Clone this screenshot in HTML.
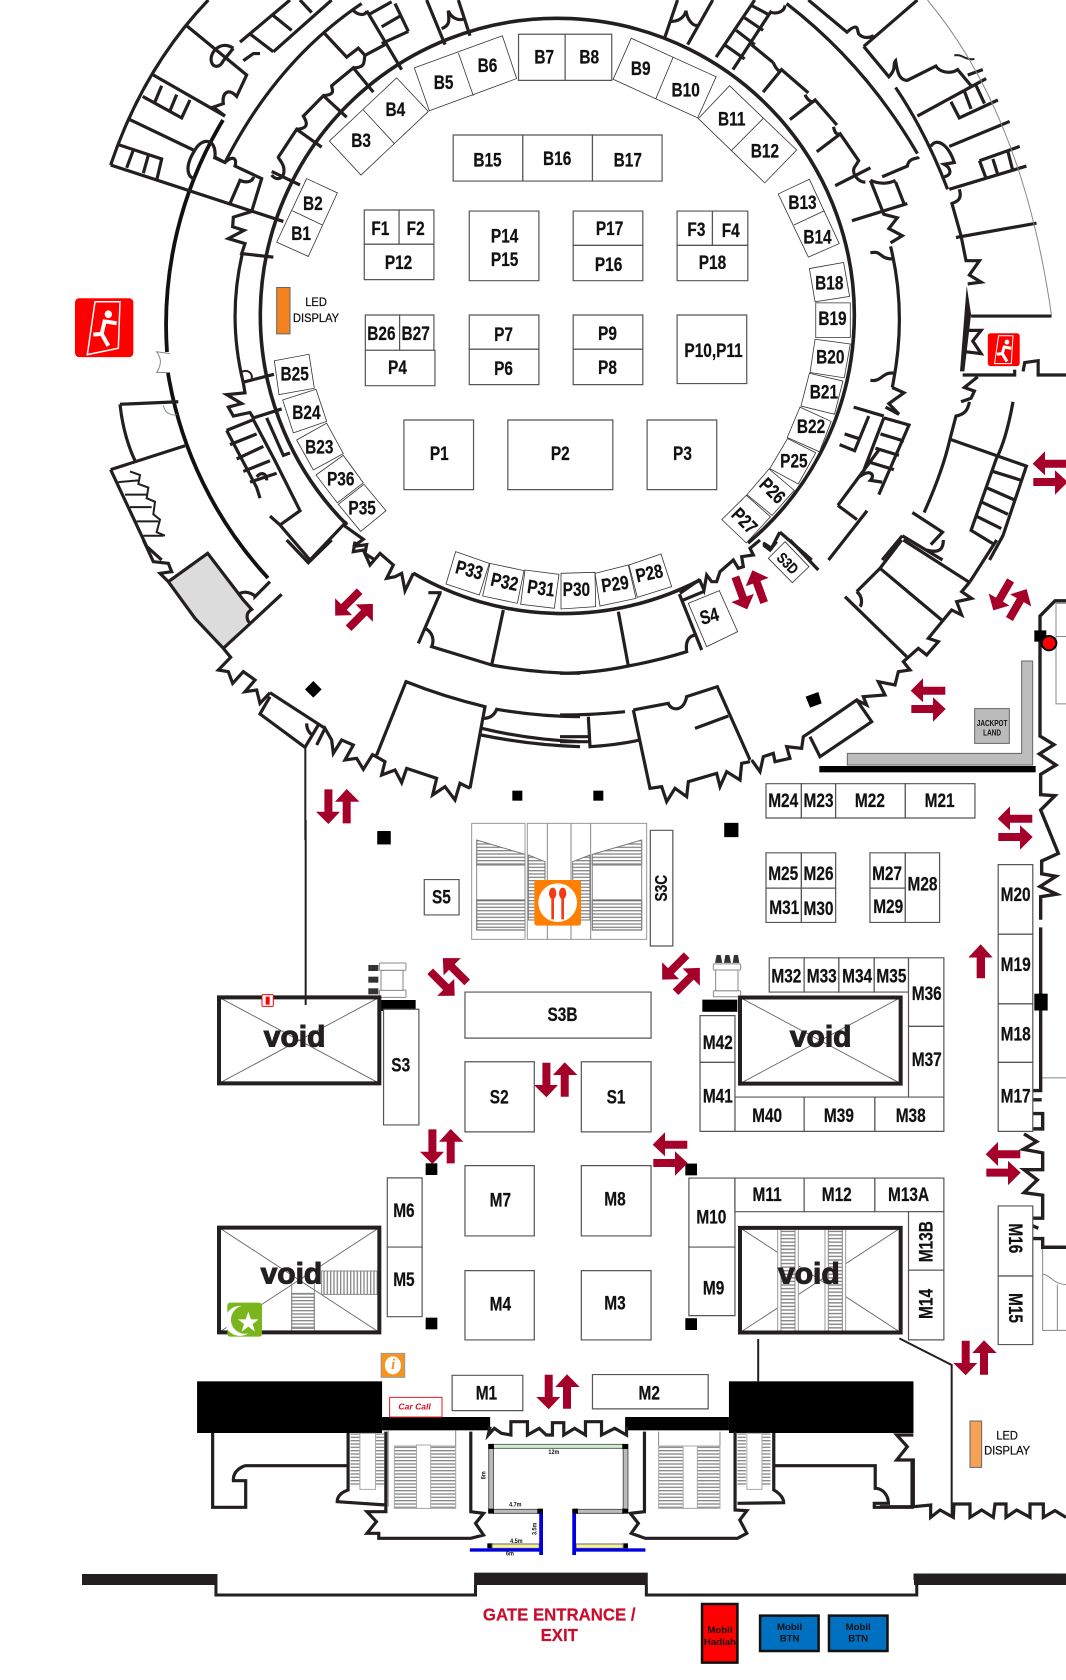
<!DOCTYPE html>
<html><head><meta charset="utf-8"><title>Floor map</title>
<style>
html,body{margin:0;padding:0;background:#fff;width:1066px;height:1680px;overflow:hidden}
svg{display:block}
g path,g polyline,g polygon,g rect,g line,g circle,g ellipse{vector-effect:non-scaling-stroke}
.w{fill:none;stroke:#231f20;stroke-width:3.2;stroke-linejoin:miter}
.t{fill:none;stroke:#231f20;stroke-width:2}
.n{fill:none;stroke:#888;stroke-width:1}
.bx{fill:#fff;stroke:#555;stroke-width:1.2}
.rb{fill:#fff;stroke:#333;stroke-width:.8}
.x{stroke:#666;stroke-width:.9;fill:none}
.v{fill:#fff;stroke:#231f20;stroke-width:4}
.k{fill:#000;stroke:none}
text{font-family:"Liberation Sans",sans-serif;font-weight:bold;font-size:18px;fill:#111;stroke:#111;stroke-width:.2;text-anchor:middle;dominant-baseline:central;transform-box:fill-box;transform-origin:center;transform:scaleX(.8)}
.void{font-size:28px;transform:none;fill:#231f20;stroke:#231f20;stroke-width:1}
.sm{font-size:11.5px;font-weight:normal;stroke:#111;stroke-width:.25;transform:scaleX(.9)}
.dim{font-size:6px;stroke:none;transform:scaleX(.85)}
</style></head><body>
<svg xmlns="http://www.w3.org/2000/svg" width="1066" height="1680" viewBox="0 0 1066 1680">
<defs>
<pattern id="h" width="10" height="10" patternUnits="userSpaceOnUse"><rect width="10" height="4" fill="#888"/></pattern>
<pattern id="vh" width="10" height="10" patternUnits="userSpaceOnUse"><rect width="4" height="10" fill="#888"/></pattern>
<g id="da" fill="#a40029"><polygon points="-13.3,-17.3 -5.3,-17.3 -5.3,5 2.3,5 -9.3,17.3 -21.7,5 -13.3,5"/><polygon points="9,-17.7 21.7,-5 13,-5 13,16.7 5,16.7 5,-5 -2.7,-5"/></g>
</defs>
<rect width="1066" height="1680" fill="#fff"/>

<!-- main rings in real coordinates -->
<g>
<path class="w" style="stroke-width:3.6" d="M347,525 A297 297 0 1 1 748,543"/>
<path class="w" style="stroke-width:3.6" d="M413,573 A297 297 0 0 0 700,580"/>
<path class="w" style="stroke-width:3.8;stroke:#111" d="M223,120 A397 397 0 0 0 167,352"/>
<path class="w" style="stroke-width:3.8;stroke:#111" d="M168,373 A397 397 0 0 0 268,578"/>
<rect x="82" y="1574" width="135" height="11" fill="#231f20"/>
<rect x="914" y="1574" width="152" height="11" fill="#231f20"/>
</g>

<!-- Z1 top-left -->
<g transform="translate(80,0) scale(.33333,.35714)">
<path class="w" d="M92,462 Q190,190 385,0"/>
<path class="w" d="M92,462 L610,620"/>
<path class="w" d="M115,405 L245,445 L230,505 M160,420 L140,470 M205,435 L190,485"/>
<path class="w" d="M150,335 L340,420"/>
<path class="w" d="M345,420 C310,470 325,500 345,500 M345,420 C365,385 410,385 405,440 L435,455"/>
<path class="w" d="M188,270 L305,330 L330,280 M220,210 L435,325 M245,240 L225,285 M290,265 L270,310"/>
<path class="w" d="M320,72 L500,210 L470,270 C445,245 425,260 430,290 L400,300 L435,325"/>
<path class="w" d="M460,135 C420,110 385,150 395,175 C400,190 420,190 430,170 L460,135 M490,170 L520,150 L540,150"/>
<path class="w" d="M480,118 L630,0 M510,95 L580,145 M575,40 L635,85 M660,0 L695,35 M580,145 L755,0"/>
<path class="w" d="M845,10 Q590,170 435,455"/>
<path class="w" d="M400,440 L435,455 C465,430 470,450 465,465 L545,500 L515,592 L460,608 L458,635 L492,645 L445,668 L495,682 L485,710 L580,720 M487,710 Q442,890 490,1072"/>
<path class="w" d="M450,570 L480,505 C505,515 520,505 520,495"/>
<path class="w" d="M575,490 C590,510 620,500 610,465 C605,450 595,445 595,440 L650,362 L725,412 M575,480 L660,518"/>
<path class="w" d="M650,362 C690,360 680,340 670,325 L730,268 L800,328 M730,268 C770,265 755,250 755,240 L820,190 L880,258 M820,190 C860,190 850,170 855,155 L915,125"/>
<path class="w" d="M730,90 L800,160 L835,135 L855,155 M860,30 L965,195 M868,40 L935,5 M905,75 L960,45 M985,88 L905,122 M945,10 L985,88 M815,25 C840,50 860,40 860,30"/>
<path class="w" d="M1040,0 L1095,125 M1135,0 L1170,100 M1085,80 C1115,70 1105,50 1105,30 C1115,55 1145,60 1155,50"/>
<path class="t" d="M480,1045 C500,1030 520,1045 515,1060"/>
<path class="w" d="M490,1070 L582,1048 M490,1072 L495,1100 L440,1105 L485,1130 L445,1140 L460,1165 L510,1155 L520,1170 L605,1145"/>
<path class="w" d="M440,1205 L520,1175 L585,1290 L660,1430 L600,1470 L570,1445 M600,1470 L690,1568 M440,1205 L530,1365 L540,1395 M450,1245 L530,1215 M470,1285 L550,1250 M490,1320 L570,1290 M510,1350 L590,1325 M530,1335 C545,1320 560,1325 560,1345 M560,1170 L610,1275 L630,1268"/>
<path class="w" d="M800,1460 L690,1568 M790,1470 L850,1510 L820,1530 L860,1525 L855,1550 L885,1568"/>
<path class="n" d="M270,990 L230,985 C245,1005 245,1020 230,1043 L270,1043 M250,1135 C255,1160 280,1165 290,1160"/>
<path class="w" d="M120,1132 L295,1125 M120,1132 Q130,1220 165,1290 M92,1315 L315,1248 M92,1315 L200,1530 L245,1568"/>
<path class="t" d="M150,1320 L180,1330 L175,1355 L205,1365 L200,1395 L225,1405 L220,1440 L240,1455 L230,1490 L255,1500 M115,1350 L175,1345 M135,1385 L200,1385 M150,1420 L215,1420 M170,1460 L235,1460 M190,1500 L250,1500"/>
<rect x="-15" y="835" width="175" height="165" rx="12" fill="#f00"/>
<path d="M45,845 L120,845 L115,975 L22,993 Z" fill="none" stroke="#fff" stroke-width="1.5"/>
<circle cx="85" cy="880" r="11" fill="#fff"/>
<path d="M75,895 L65,935 L40,937 M65,935 L85,968 M75,900 L110,905" fill="none" stroke="#fff" stroke-width="4"/>
<rect x="590" y="805" width="40" height="130" fill="#f58220" stroke="#666"/>
<polygon class="rb" points="1003,190 1267,100 1310,220 1048,310"/><line class="rb" x1="1135" y1="148" x2="1180" y2="268"/>
<polygon class="rb" points="950,218 1045,312 843,490 748,395"/><line class="rb" x1="850" y1="308" x2="943" y2="402"/>
<polygon class="rb" points="680,500 772,540 685,718 590,678"/><line class="rb" x1="637" y1="590" x2="727" y2="630"/>
<polygon class="rb" points="583,1010 687,992 703,1087 597,1105"/>
<polygon class="rb" points="608,1120 708,1090 740,1180 640,1212"/>
<polygon class="rb" points="650,1232 740,1185 790,1270 700,1316"/>
<polygon class="rb" points="708,1330 790,1275 850,1352 772,1408"/>
<polygon class="rb" points="775,1412 852,1356 918,1430 842,1488"/>
</g>

<!-- Z2 top-right -->
<g transform="translate(540,0) scale(.33546,.35714)">
<path class="w" d="M410,0 L372,105 M515,0 L440,125 M390,60 C430,60 435,30 435,30 C440,60 460,75 470,70"/>
<path class="w" d="M525,160 L640,0 M575,195 L690,30 M550,125 L610,165 M585,85 L640,125 M610,50 L665,85 M630,15 L680,40 M690,35 C710,40 730,30 730,15"/>
<path class="w" d="M735,10 Q970,180 1125,430 M800,0 L915,90 C950,60 945,85 950,95 C965,110 985,105 995,100 M965,130 L1125,0"/>
<path class="w" d="M965,130 L1040,215 C1065,190 1050,180 1060,170 C1065,200 1070,225 1095,225 L1180,185 C1190,200 1220,210 1245,195 L1285,240"/>
<path class="w" d="M1060,245 Q1150,370 1215,530 M1125,325 L1330,220 M1225,285 L1250,330 L1365,280 M1265,255 L1285,305 M1300,240 L1325,290 M1275,210 L1320,195"/>
<path class="t" d="M1235,155 C1260,150 1265,170 1295,165"/>
<path class="w" d="M1165,410 C1180,385 1215,400 1235,455 L1205,460 C1225,470 1230,490 1205,495 M1220,410 L1400,340 M1310,450 L1430,410 M1330,500 L1310,450 M1220,530 L1450,465 M1350,445 L1365,490 M1395,425 L1410,480"/>
<path class="w" d="M1250,530 C1260,560 1240,565 1228,570 L1255,660 L1270,730 L1310,730 L1280,770 L1315,790 L1275,795 M1240,665 L1480,625"/>
<polygon points="1272,800 1285,880 1265,1040 1252,1040" fill="#231f20"/>
<path class="w" d="M1285,885 L1525,885 M1270,925 L1315,925 L1290,955 L1315,990 L1270,985 M1260,1050 L1415,1050 L1415,1035 M1440,1040 L1445,1015 L1485,1010 L1485,1050 L1568,1050 M1305,1055 L1265,1085 L1295,1095 L1285,1115 L1255,1125"/>
<path class="w" d="M1280,1125 C1275,1150 1265,1160 1240,1165 L1222,1230 L1450,1305 L1380,1500 L1340,1568 M1222,1230 Q1200,1320 1145,1435 M1410,1125 Q1390,1230 1360,1285 L1285,1485 L1355,1525 M1350,1320 L1435,1345 M1330,1365 L1415,1400 M1315,1405 L1395,1440 M1300,1445 L1375,1480"/>
<path class="w" d="M1110,1435 L1200,1490 L1165,1525 M1080,1500 L1020,1568 M1080,1500 L1200,1568"/>
<path class="w" d="M1045,690 Q1095,880 1050,1085 M985,708 C1020,700 1010,725 1050,725 M985,1065 C1020,1070 1020,1040 1055,1045 M1050,1085 L1085,1100 L1040,1130 L1070,1160 L1030,1140"/>
<path class="w" d="M1045,680 L1080,660 L1040,640 L1065,610 L1025,600 L985,505 M1060,510 L1085,570 M985,505 C1020,520 1050,510 1060,505 M930,618 L1095,570 M880,520 L985,470 M1020,495 L1095,465 C1100,440 1125,445 1130,440"/>
<path class="w" d="M745,335 L820,280 L885,350 M790,265 C800,285 815,290 820,280 M665,258 L720,195 L800,260 M695,175 C705,195 715,205 720,195 M630,125 L695,175 M825,425 L895,375 L950,450 L940,465 C925,480 945,510 970,510 M875,355 C880,380 890,375 895,375"/>
<path class="w" d="M935,1140 L1025,1165 M980,1165 L938,1262 L893,1245 M908,1215 L950,1228 M1025,1170 L1100,1190 L1010,1385 M1015,1215 L1085,1235 M1000,1255 L1070,1275 M985,1295 L1055,1315 M1025,1170 L960,1330 C985,1315 1000,1330 985,1345 L1020,1350 M888,1415 L945,1455 M860,1568 L975,1430 M888,1415 L1010,1260"/>
<path class="w" d="M715,1490 L810,1568 M665,1520 L690,1535 L715,1490"/>
<path class="n" d="M1155,0 Q1440,320 1525,885"/>
<rect x="1335" y="933" width="95" height="92" rx="8" fill="#f00"/>
<path d="M1367,940 L1410,940 L1405,1018 L1355,1018 Z" fill="none" stroke="#fff" stroke-width="1"/>
<circle cx="1392" cy="958" r="7" fill="#fff"/>
<path d="M1385,968 L1378,990 L1362,992 M1378,990 L1392,1012 M1385,972 L1405,975" fill="none" stroke="#fff" stroke-width="3"/>
<polygon class="rb" points="272,107 525,215 470,330 218,222"/><line class="rb" x1="397" y1="160" x2="345" y2="277"/>
<polygon class="rb" points="565,240 765,420 670,512 472,332"/><line class="rb" x1="665" y1="332" x2="570" y2="422"/>
<polygon class="rb" points="710,543 803,502 892,682 800,720"/><line class="rb" x1="757" y1="630" x2="848" y2="590"/>
<polygon class="rb" points="803,752 905,735 923,830 820,845"/>
<polygon class="rb" points="822,848 925,848 925,945 822,945"/>
<polygon class="rb" points="820,950 925,963 907,1058 805,1043"/>
<polygon class="rb" points="803,1045 903,1067 878,1160 778,1137"/>
<polygon class="rb" points="775,1140 868,1180 833,1265 737,1225"/>
<polygon class="rb" points="738,1228 822,1268 770,1355 685,1312"/>
<polygon class="rb" points="683,1313 758,1373 692,1443 617,1385"/>
<polygon class="rb" points="615,1387 687,1447 615,1520 542,1455"/>
</g>

<!-- Z3 bottom-left ring -->
<g transform="translate(80,540) scale(.33333)">
<polygon points="270,122 383,42 510,210 500,250 430,322 340,235" fill="#dcdcdc"/>
<path class="w" d="M190,0 L220,65 L265,70 L275,95 L240,100 L265,125 L345,235 L430,325 L452,352 L415,390 L445,395 L458,430 L490,395 L525,420 L495,455 L530,450 L540,490 L570,458"/>
<path class="w" d="M265,125 L383,40 L490,180 L515,208 C495,220 500,240 510,250 M480,160 C500,150 525,165 525,170 L570,125 M430,325 L605,163"/>
<path class="w" d="M620,0 L685,68 L755,0"/>
<polygon class="k" points="700,423 725,448 700,473 675,448"/>
<path class="w" d="M570,458 L735,565 M570,470 L540,522 L675,622 L715,555 M680,550 C680,575 695,585 700,585"/>
<path class="t" d="M676,625 L676,900"/>
<path class="w" d="M710,615 L735,565 L755,600 L760,640 L785,600 L820,615 L795,660 L830,655 L850,688 L880,640"/>
<path class="w" d="M890,645 L978,425 Q1090,470 1215,500 L1170,745 M880,645 L915,665 L905,705 L945,690 L965,728 L980,685 L1070,715 L1058,765 L1095,740 L1125,780 L1140,730 L1170,745"/>
<path class="w" d="M1210,535 C1235,535 1245,520 1250,508 Q1380,530 1500,530 M1205,565 Q1350,600 1500,605 M1203,585 Q1350,615 1500,620"/>
<path class="w" d="M1045,158 L1085,158 M1080,160 L1015,310 M1035,265 C1065,280 1060,310 1055,320 L1235,375 Q1370,400 1500,400 M1270,210 L1235,375"/>
<path class="w" d="M1000,100 L975,152 L965,100 L945,110 L920,115 L940,75 L900,40 L870,75 L850,30 L820,35 L825,5"/>
<rect class="k" x="1297" y="752" width="30" height="30"/>
<rect class="k" x="892" y="873" width="40" height="40"/>
<polygon class="rb" points="1127,35 1228,70 1198,165 1098,132"/>
<polygon class="rb" points="1230,70 1332,92 1312,190 1208,168"/>
<polygon class="rb" points="1335,90 1437,103 1423,205 1322,193"/>
</g>

<!-- Z4 bottom-right ring -->
<g transform="translate(560,540) scale(.33333)">
<path class="w" d="M0,400 Q100,400 205,378 Q300,360 380,335 C375,300 390,285 410,285 M358,162 L425,330 M175,215 L205,378 M420,118 L360,160 M370,180 L430,155"/>
<path class="w" d="M418,118 L432,150 L440,105 L455,125 L470,125 L480,95 L520,60 L535,85 L550,80 L545,50 L580,45 L570,25 L600,0"/>
<path class="w" d="M0,525 Q100,525 195,515 M0,590 L90,590 M0,605 L90,605 M85,530 L90,620 Q170,615 240,600"/>
<path class="w" d="M220,510 L325,490 C330,510 370,520 380,470 L472,440 L570,660 M220,510 L270,745 L305,740 L320,785 L345,745 L380,770 L385,725 L470,700 L480,740 L500,695 L540,720 L545,670 L570,665 M405,565 L505,528"/>
<path class="w" d="M575,660 L600,695 L610,650 L640,640 L645,665 L690,655 L680,620 L725,625 L730,590 L745,580 L760,570 L890,480 L935,545 L780,650 L750,590"/>
<path class="w" d="M890,480 L920,495 L910,470 L975,465 L955,425 L1005,435 L1015,395 L1050,390 L1030,365 L1075,325 L1100,345 L1135,305 L1105,295 L1150,240 L1175,210 L1205,225 L1190,185 L1235,175 L1205,155 L1230,125"/>
<path class="w" d="M1040,350 L855,170 M890,155 C910,170 905,195 900,200 M890,155 L960,85 L1025,0 M960,85 L1145,240 M1230,125 L1310,0 M1030,0 L1225,125 M1100,30 C1135,40 1150,30 1150,0"/>
<path class="w" d="M690,0 L775,90 M610,15 L630,30 L650,5"/>
<polygon class="k" points="775,456 785,490 750,503 737,470"/>
<rect class="k" x="100" y="752" width="30" height="30"/>
<rect class="k" x="493" y="850" width="42" height="40"/>
<path d="M1385,363 H1418 V675 H862 V640 H1385 Z" fill="#bdbdbd" stroke="#666"/>
<rect class="k" x="778" y="678" width="649" height="19"/>
<rect x="1244" y="506" width="104" height="104" fill="#bbb" stroke="#666"/>
<polygon class="rb" points="675,5 747,80 697,128 625,55"/>
<polygon class="rb" points="385,190 478,152 533,275 440,320"/>
<polygon class="rb" points="3,100 105,97 107,200 3,207"/>
<polygon class="rb" points="105,100 205,75 228,175 120,198"/>
<polygon class="rb" points="207,75 303,42 335,140 232,172"/>
</g>

<!-- Z9 right wall -->
<g transform="translate(950,560) scale(.33333,.5102)">
<path class="n" d="M348,85 L318,85 L318,282 L348,282 M318,150 L348,150 M272,1015 L348,1015 M278,1350 L278,1510 L348,1510 M322,1420 L322,1510 M278,1400 C300,1400 310,1420 348,1420"/>
<path class="w" style="stroke-width:3.4" d="M348,80 L315,80 L270,110 L270,345 L312,362 L268,380 L318,402 L272,420 L272,460 L315,462 L272,490 L325,575 L275,590 L275,615 L318,620 L270,640 L320,655 L272,660 L272,705 M272,720 L272,1040 L248,1040 M248,1058 L275,1058 M248,1085 L278,1085 L278,1115 L248,1115 M222,1125 L260,1140 L220,1155 L278,1162 L278,1195 L222,1195 L262,1215 L222,1240 L278,1245 L278,1290 L248,1290 M248,1305 L265,1310 M248,1330 L278,1330 L278,1347 L348,1347"/>
<rect class="k" x="253" y="850" width="40" height="33"/>
<rect class="k" x="253" y="138" width="36" height="22"/>
<ellipse cx="297" cy="163" rx="22" ry="14" fill="#f00" stroke="#000" stroke-width="2"/>
</g>

<!-- Z8 -->
<g transform="translate(880,1300) scale(.33333)">
<path class="t" d="M58,115 L215,195 L215,650"/>
<path class="w" d="M100,405 L50,405 L82,440 L50,480 L100,480 L100,620 L0,620 M100,620 L152,615 L152,652 L180,630 L220,652 L222,612 L270,612 L270,652 L305,630 L340,652 L345,612 L378,612 L378,652 L410,630 L450,652 L450,612 L490,612 L490,652 L525,632 L558,652"/>
<rect x="270" y="363" width="35" height="139" fill="#f5a257" stroke="#666"/>
<path d="M105,840 V825 H558" fill="none" stroke="#231f20" stroke-width="3"/>
</g>

<!-- Z6 centre-left -->
<g transform="translate(200,820) scale(.33333)">
<rect x="815" y="10" width="160" height="348" fill="none" stroke="#999" stroke-width="1"/>
<rect x="982" y="10" width="358" height="348" fill="none" stroke="#999" stroke-width="1"/>
<path class="n" d="M1042,10 V358 M1113,10 V358 M1172,10 V358"/>
<polygon points="830,60 975,103 975,135 830,135" fill="url(#h)" stroke="#777"/>
<rect x="830" y="240" width="145" height="90" fill="url(#h)" stroke="#555"/>
<path class="n" d="M830,60 V330 M975,103 V330"/>
<polygon points="1325,60 1177,103 1177,135 1325,135" fill="url(#h)" stroke="#777"/>
<rect x="1177" y="240" width="148" height="90" fill="url(#h)" stroke="#555"/>
<path class="n" d="M1325,60 V330 M1177,103 V330"/>
<polygon points="985,105 1035,125 1035,300 985,300" fill="url(#h)" stroke="#777"/>
<polygon points="1118,125 1170,105 1170,300 1118,300" fill="url(#h)" stroke="#777"/>
<rect x="1003" y="180" width="140" height="137" rx="8" fill="#ff8000"/>
<circle cx="1073" cy="248" r="58" fill="#fff"/>
<ellipse cx="1058" cy="220" rx="11" ry="17" fill="#f03c14"/>
<ellipse cx="1088" cy="220" rx="11" ry="17" fill="#f03c14"/>
<rect x="1054" y="230" width="8" height="68" fill="#f03c14"/>
<rect x="1084" y="230" width="8" height="68" fill="#f03c14"/>
<!-- lift left -->
<rect x="538" y="429" width="80" height="22" rx="3" fill="#fff" stroke="#888"/>
<rect x="538" y="510" width="80" height="22" rx="3" fill="#fff" stroke="#888"/>
<rect x="543" y="451" width="66" height="60" fill="#fff" stroke="#888"/>
<rect x="505" y="435" width="30" height="18" fill="#333"/>
<rect x="505" y="470" width="30" height="18" fill="#333"/>
<rect x="505" y="505" width="30" height="18" fill="#333"/>
<rect class="k" x="540" y="540" width="107" height="33"/>
<!-- void 1 -->
<path class="x" d="M57,532 L538,790 M57,790 L538,532"/>
<rect x="57" y="532" width="481" height="258" fill="none" stroke="#231f20" stroke-width="4"/>
<rect x="186" y="524" width="34" height="35" rx="3" fill="#fff" stroke="#f00" stroke-width="1"/>
<rect x="197" y="530" width="12" height="24" fill="#f00"/>
<path class="t" d="M317,0 L317,555"/>
<!-- void 2 -->
<path class="x" d="M57,1223 L538,1537 M57,1537 L538,1223"/>
<rect x="365" y="1353" width="167" height="70" fill="url(#vh)" stroke="#888"/>
<rect x="275" y="1420" width="68" height="105" fill="url(#h)" stroke="#888"/>
<path class="n" d="M275,1390 V1537 M343,1390 V1537"/>
<rect x="57" y="1223" width="481" height="314" fill="none" stroke="#231f20" stroke-width="4"/>
<rect x="82" y="1448" width="104" height="102" rx="8" fill="#7ab51d"/>
<path d="M125,1458 A45,45 0 1 0 145,1540 A38,38 0 1 1 125,1458 Z" fill="#fff"/>
<polygon points="145,1475 153,1498 176,1498 158,1512 165,1535 145,1520 125,1535 132,1512 114,1498 137,1498" fill="#fff"/>
<rect class="k" x="532" y="33" width="40" height="40"/>
<rect class="k" x="677" y="1030" width="35" height="35"/>
<rect class="k" x="677" y="1493" width="35" height="35"/>
</g>

<!-- Z7 centre-right -->
<g transform="translate(650,820) scale(.33333,.35714)">
<rect class="k" x="223" y="8" width="42" height="40"/>
<rect x="190" y="403" width="82" height="17" rx="3" fill="#fff" stroke="#888"/>
<rect x="190" y="478" width="82" height="17" rx="3" fill="#fff" stroke="#888"/>
<rect x="197" y="420" width="67" height="58" fill="#fff" stroke="#888"/>
<path d="M195,400 L200,378 H212 L217,400 Z M222,400 L226,378 H238 L243,400 Z M248,400 L252,378 H264 L268,400 Z" fill="#333"/>
<rect class="k" x="157" y="503" width="105" height="34"/>
<path class="x" d="M270,497 L752,738 M270,738 L752,497"/>
<rect x="270" y="497" width="482" height="241" fill="none" stroke="#231f20" stroke-width="4"/>
<path class="x" d="M270,1142 L752,1435 M270,1435 L752,1142"/>
<rect x="383" y="1142" width="62" height="293" fill="#fff" stroke="#999"/>
<rect x="393" y="1142" width="42" height="293" fill="url(#h)" stroke="#888"/>
<rect x="525" y="1142" width="62" height="293" fill="#fff" stroke="#999"/>
<rect x="535" y="1142" width="42" height="293" fill="url(#h)" stroke="#888"/>
<rect x="270" y="1142" width="482" height="293" fill="none" stroke="#231f20" stroke-width="4"/>
<rect class="k" x="106" y="962" width="35" height="33"/>
<rect class="k" x="106" y="1395" width="35" height="33"/>
<polygon fill="#a40029" points="992,348 1028,385 1005,385 1005,443 980,443 980,385 955,385"/>
</g>

<!-- Z5 bottom -->
<g transform="translate(190,1320) scale(.47192,.33333)">
<rect class="k" x="15" y="184" width="392" height="155"/>
<rect class="k" x="1142" y="184" width="391" height="155"/>
<rect class="k" x="407" y="291" width="229" height="40"/>
<rect class="k" x="922" y="291" width="220" height="40"/>
<path class="w" d="M636,320 L632,345 L645,325 L660,340 L680,345 L680,305 L715,305 L715,345 L740,325 L755,345 L768,345 L768,308 L792,308 L792,345 L815,325 L838,345 L838,305 L872,305 L872,345 L900,325 L925,345 L925,320"/>
<path class="t" d="M1204,57 L1204,184"/>
<path class="w" d="M48,339 L48,562 L118,562 L118,482 L92,482 C90,450 115,437 118,437 L335,437 M335,339 L335,510 C315,520 312,535 312,545 L415,555 M415,335 L415,575 L375,575 L395,605 L375,640 L400,640 L400,655 L595,655 L622,645 L605,610 L622,580 L595,575 L595,335"/>
<path class="w" d="M963,335 L963,575 L933,580 L950,610 L935,640 L965,655 L1160,655 L1180,640 L1165,600 L1180,572 L1155,570 L1155,335 M1237,339 L1237,510 C1250,520 1258,535 1258,548 L1160,550 M1237,437 L1452,437 L1452,505 C1470,505 1480,530 1480,550 L1450,550 L1450,562 L1530,562 L1530,420"/>
<rect x="340" y="340" width="20" height="160" fill="url(#h)"/>
<rect x="393" y="340" width="18" height="160" fill="url(#h)"/>
<rect x="360" y="340" width="33" height="168" fill="#fff" stroke="#aaa"/>
<rect x="1160" y="340" width="18" height="160" fill="url(#h)"/>
<rect x="1212" y="340" width="18" height="160" fill="url(#h)"/>
<rect x="1180" y="340" width="32" height="168" fill="#fff" stroke="#aaa"/>
<rect x="433" y="378" width="130" height="187" fill="url(#h)" stroke="#aaa"/>
<rect x="480" y="375" width="30" height="190" fill="#fff" stroke="#aaa"/>
<path class="n" d="M420,330 V560 M563,330 V378 M993,335 V378 M1123,335 V378"/>
<rect x="993" y="378" width="130" height="187" fill="url(#h)" stroke="#aaa"/>
<rect x="1045" y="378" width="30" height="187" fill="#fff" stroke="#aaa"/>
<rect x="640" y="373" width="278" height="12" fill="#cfeecf" stroke="#666"/>
<rect x="633" y="373" width="10" height="205" fill="#bbb" stroke="#555"/>
<rect x="918" y="373" width="10" height="205" fill="#bbb" stroke="#555"/>
<rect x="643" y="568" width="97" height="12" fill="#bbb" stroke="#555"/>
<rect x="815" y="568" width="103" height="12" fill="#bbb" stroke="#555"/>
<g fill="#000"><rect x="632" y="372" width="12" height="15"/><rect x="916" y="372" width="12" height="15"/><rect x="632" y="566" width="12" height="15"/><rect x="736" y="566" width="12" height="15"/><rect x="810" y="566" width="12" height="15"/><rect x="916" y="566" width="12" height="15"/><rect x="630" y="670" width="12" height="15"/><rect x="916" y="670" width="12" height="15"/></g>
<rect x="640" y="672" width="100" height="13" fill="#f5f09a" stroke="#666"/>
<rect x="818" y="672" width="100" height="13" fill="#f5f09a" stroke="#666"/>
<g fill="#0000e0"><rect x="740" y="580" width="8" height="125"/><rect x="810" y="580" width="8" height="125"/><rect x="593" y="685" width="149" height="10"/><rect x="818" y="685" width="147" height="10"/></g>
<rect x="602" y="758" width="368" height="37" fill="#231f20"/>
<path class="t" style="stroke-width:3" d="M55,762 L55,825 L605,825 L605,795 M967,795 L967,825 L1540,825 L1540,762"/>
<rect x="423" y="232" width="111" height="59" fill="#fff" stroke="#e02020"/>
<rect x="405" y="100" width="50" height="72" fill="#f7941d" stroke="#999"/>
<ellipse cx="430" cy="136" rx="17" ry="27" fill="#fff"/>
<rect x="1085" y="852" width="75" height="176" fill="#f00" stroke="#111" stroke-width="2.5"/>
<rect x="1208" y="887" width="124" height="106" fill="#0070c0" stroke="#111" stroke-width="2.5"/>
<rect x="1354" y="887" width="124" height="106" fill="#0070c0" stroke="#111" stroke-width="2.5"/>
</g>

<!-- arrows -->
<use href="#da" transform="translate(337.7,806.7)"/>
<use href="#da" transform="translate(354,610) rotate(45)"/>
<use href="#da" transform="translate(750,590) rotate(-20)"/>
<use href="#da" transform="translate(1010,600) rotate(30)"/>
<use href="#da" transform="translate(928,700) rotate(90)"/>
<use href="#da" transform="translate(1015,828) rotate(90)"/>
<use href="#da" transform="translate(1050,473) rotate(90)"/>
<use href="#da" transform="translate(449,977) rotate(-45)"/>
<use href="#da" transform="translate(681,974) rotate(45)"/>
<use href="#da" transform="translate(555.7,1080)"/>
<use href="#da" transform="translate(441.7,1146.7)"/>
<use href="#da" transform="translate(670,1154) rotate(90)"/>
<use href="#da" transform="translate(1003,1163.6) rotate(90)"/>
<use href="#da" transform="translate(558,1392)"/>
<use href="#da" transform="translate(975,1358)"/>

<!-- booths & labels in display coordinates -->
<g transform="scale(1.07136)">
<g class="boxes">
<rect class="bx" x="484" y="32" width="43.5" height="43"/><rect class="bx" x="527.5" y="32" width="43.5" height="43"/>
<rect class="bx" x="423" y="126" width="65" height="43"/><rect class="bx" x="488" y="126" width="65" height="43"/><rect class="bx" x="553" y="126" width="65" height="43"/>
<rect class="bx" x="340" y="196" width="32.5" height="32"/><rect class="bx" x="372.5" y="196" width="32.5" height="32"/><rect class="bx" x="340" y="228" width="65" height="33"/>
<rect class="bx" x="438" y="197" width="65" height="65"/>
<rect class="bx" x="535" y="197" width="65" height="32"/><rect class="bx" x="535" y="229" width="65" height="33"/>
<rect class="bx" x="632" y="197" width="33" height="32"/><rect class="bx" x="665" y="197" width="33" height="32"/><rect class="bx" x="632" y="229" width="66" height="33"/>
<rect class="bx" x="341" y="294" width="32" height="33"/><rect class="bx" x="373" y="294" width="32" height="33"/><rect class="bx" x="341" y="327" width="65" height="33"/>
<rect class="bx" x="438" y="294" width="65" height="32"/><rect class="bx" x="438" y="326" width="65" height="33"/>
<rect class="bx" x="535" y="294" width="65" height="32"/><rect class="bx" x="535" y="326" width="65" height="33"/>
<rect class="bx" x="632" y="294" width="65" height="64"/>
<rect class="bx" x="377" y="392" width="65" height="65"/><rect class="bx" x="474" y="392" width="98" height="65"/><rect class="bx" x="604" y="392" width="65" height="65"/>
<rect class="bx" x="715" y="731.5" width="33" height="32"/><rect class="bx" x="748" y="731.5" width="32" height="32"/><rect class="bx" x="780" y="731.5" width="65" height="32"/><rect class="bx" x="845" y="731.5" width="65" height="32"/>
<rect class="bx" x="715" y="796" width="33" height="33"/><rect class="bx" x="748" y="796" width="32" height="33"/><rect class="bx" x="715" y="829" width="33" height="32"/><rect class="bx" x="748" y="829" width="32" height="32"/>
<rect class="bx" x="812" y="796" width="33" height="33"/><rect class="bx" x="812" y="829" width="33" height="32"/><rect class="bx" x="845" y="796" width="32" height="65"/>
<rect class="bx" x="718" y="894" width="32.6" height="32"/><rect class="bx" x="750.6" y="894" width="32.4" height="32"/><rect class="bx" x="783" y="894" width="33" height="32"/><rect class="bx" x="816" y="894" width="32" height="32"/>
<rect class="bx" x="848" y="894" width="33" height="64"/><rect class="bx" x="848" y="958" width="33" height="66"/>
<rect class="bx" x="686" y="1024" width="64.6" height="32"/><rect class="bx" x="750.6" y="1024" width="66" height="32"/><rect class="bx" x="816.6" y="1024" width="64.4" height="32"/>
<rect class="bx" x="653.4" y="948" width="32.6" height="43.6"/><rect class="bx" x="653.4" y="991.6" width="32.6" height="64.4"/>
<rect class="bx" x="643" y="1099.6" width="43" height="64.4"/><rect class="bx" x="643" y="1164" width="43" height="64"/>
<rect class="bx" x="686" y="1099.6" width="64.6" height="31.4"/><rect class="bx" x="750.6" y="1099.6" width="66" height="31.4"/><rect class="bx" x="816.6" y="1099.6" width="64.4" height="31.4"/>
<rect class="bx" x="848" y="1131" width="33" height="54.6"/><rect class="bx" x="848" y="1185.6" width="33" height="65"/>
<rect class="bx" x="931.7" y="807" width="32.3" height="65"/><rect class="bx" x="931.7" y="872" width="32.3" height="65"/><rect class="bx" x="931.7" y="937" width="32.3" height="54.6"/><rect class="bx" x="931.7" y="991.6" width="32.3" height="64.4"/>
<rect class="bx" x="931.7" y="1125.6" width="32.3" height="65.4"/><rect class="bx" x="931.7" y="1191" width="32.3" height="64"/>
<rect class="bx" x="607" y="775" width="21" height="108"/>
<rect class="bx" x="396" y="821" width="32.5" height="33"/>
<rect class="bx" x="434" y="926" width="173.7" height="43"/>
<rect class="bx" x="434" y="991" width="64.7" height="65.5"/><rect class="bx" x="542.6" y="991" width="65.1" height="65.5"/>
<rect class="bx" x="358" y="942" width="33" height="108"/>
<rect class="bx" x="434" y="1088" width="64.7" height="65.6"/><rect class="bx" x="542.6" y="1088" width="65.1" height="65.6"/>
<rect class="bx" x="434" y="1186" width="64.7" height="64.7"/><rect class="bx" x="542.6" y="1186" width="65.1" height="64.7"/>
<rect class="bx" x="361.5" y="1099.4" width="32.5" height="64.6"/><rect class="bx" x="361.5" y="1164" width="32.5" height="65"/>
<rect class="bx" x="422" y="1283.7" width="66" height="33"/><rect class="bx" x="553" y="1283" width="108" height="32"/>
</g>
<text x="508" y="53">B7</text><text x="550" y="53">B8</text>
<text x="455" y="149">B15</text><text x="520" y="148">B16</text><text x="586" y="149">B17</text>
<text x="355" y="213">F1</text><text x="388" y="213">F2</text><text x="372" y="245">P12</text>
<text x="471" y="220">P14</text><text x="471" y="242">P15</text>
<text x="569" y="213">P17</text><text x="568" y="247">P16</text>
<text x="650" y="214">F3</text><text x="682" y="215">F4</text><text x="665" y="245">P18</text>
<text x="356" y="311">B26</text><text x="388" y="311">B27</text><text x="371" y="343">P4</text>
<text x="470" y="312">P7</text><text x="470" y="344">P6</text>
<text x="567" y="311">P9</text><text x="567" y="343">P8</text><text x="666" y="327">P10,P11</text>
<text x="410" y="423">P1</text><text x="523" y="423">P2</text><text x="637" y="423">P3</text>
<text x="292" y="190">B2</text><text x="281" y="218">B1</text><text x="337" y="131">B3</text><text x="369" y="102">B4</text><text x="414" y="77">B5</text><text x="455" y="61">B6</text>
<text x="598" y="64">B9</text><text x="640" y="84">B10</text><text x="683" y="111">B11</text><text x="714" y="141">B12</text><text x="749" y="189">B13</text><text x="763" y="221">B14</text>
<text x="774" y="264">B18</text><text x="777" y="297">B19</text><text x="775" y="333">B20</text><text x="769" y="366">B21</text><text x="757" y="398">B22</text><text x="741" y="430">P25</text>
<text x="721" y="458" style="transform:rotate(45deg) scaleX(.8)">P26</text><text x="695" y="486" style="transform:rotate(45deg) scaleX(.8)">P27</text>
<text x="735" y="526" style="transform:rotate(45deg) scaleX(.8);font-size:14px">S3D</text>
<text x="662" y="575" style="transform:rotate(-15deg) scaleX(.8)">S4</text>
<text x="606" y="535" style="transform:rotate(-12deg) scaleX(.8)">P28</text><text x="574" y="545" style="transform:rotate(-8deg) scaleX(.8)">P29</text><text x="538" y="550">P30</text>
<text x="505" y="549" style="transform:rotate(8deg) scaleX(.8)">P31</text><text x="471" y="543" style="transform:rotate(12deg) scaleX(.8)">P32</text><text x="438" y="532" style="transform:rotate(15deg) scaleX(.8)">P33</text>
<text x="338" y="474">P35</text><text x="318" y="447">P36</text><text x="298" y="417">B23</text><text x="286" y="385">B24</text><text x="275" y="349">B25</text>
<text class="sm" x="295" y="282">LED</text><text class="sm" x="295" y="297">DISPLAY</text>
<text x="731" y="747">M24</text><text x="764" y="747">M23</text><text x="812" y="747">M22</text><text x="877" y="747">M21</text>
<text x="731" y="815">M25</text><text x="764" y="815">M26</text><text x="732" y="847">M31</text><text x="764" y="848">M30</text>
<text x="828" y="815">M27</text><text x="861" y="825">M28</text><text x="829" y="846">M29</text>
<text x="734" y="911">M32</text><text x="767" y="911">M33</text><text x="800" y="911">M34</text><text x="832" y="911">M35</text><text x="865" y="927">M36</text><text x="865" y="989">M37</text>
<text x="716" y="1041">M40</text><text x="783" y="1041">M39</text><text x="850" y="1041">M38</text><text x="670" y="973">M42</text><text x="670" y="1023">M41</text>
<text x="664" y="1136">M10</text><text x="666" y="1202">M9</text><text x="716" y="1115">M11</text><text x="781" y="1115">M12</text><text x="848" y="1115">M13A</text>
<text x="864" y="1159" style="transform:rotate(-90deg) scaleX(.8)">M13B</text><text x="864" y="1217" style="transform:rotate(-90deg) scaleX(.8)">M14</text>
<text x="948" y="835">M20</text><text x="948" y="900">M19</text><text x="948" y="965">M18</text><text x="948" y="1023">M17</text>
<text x="948" y="1156" style="transform:rotate(90deg) scaleX(.8)">M16</text><text x="948" y="1221" style="transform:rotate(90deg) scaleX(.8)">M15</text>
<text x="618" y="829" style="transform:rotate(-90deg) scaleX(.8);font-size:16px">S3C</text>
<text x="412" y="837">S5</text><text x="525" y="947">S3B</text><text x="466" y="1024">S2</text><text x="575" y="1024">S1</text><text x="374" y="994">S3</text>
<text x="467" y="1120">M7</text><text x="574" y="1119">M8</text><text x="467" y="1217">M4</text><text x="574" y="1216">M3</text><text x="377" y="1130">M6</text><text x="377" y="1194">M5</text>
<text x="454" y="1300">M1</text><text x="606" y="1300">M2</text>
<text class="void" x="275" y="968">void</text><text class="void" x="766" y="968">void</text><text class="void" x="272" y="1189">void</text><text class="void" x="755" y="1189">void</text>
<text x="926" y="675" style="font-size:7.5px;stroke:none">JACKPOT</text><text x="926" y="684" style="font-size:7.5px;stroke:none">LAND</text>
<text class="sm" x="940" y="1340">LED</text><text class="sm" x="940" y="1354">DISPLAY</text>
<text x="522" y="1507" style="fill:#c8102e;stroke:#c8102e;font-size:16.5px;transform:scaleX(.95)">GATE ENTRANCE /</text><text x="522" y="1526" style="fill:#c8102e;stroke:#c8102e;font-size:16.5px;transform:scaleX(.95)">EXIT</text>
<text x="672" y="1522" style="font-size:9px;stroke:none;transform:none">Mobil</text><text x="672" y="1533" style="font-size:9px;stroke:none;transform:none">Hadiah</text>
<text x="737" y="1519" style="font-size:9px;stroke:none;transform:none">Mobil</text><text x="737" y="1530" style="font-size:9px;stroke:none;transform:none">BTN</text>
<text x="801" y="1519" style="font-size:9px;stroke:none;transform:none">Mobil</text><text x="801" y="1530" style="font-size:9px;stroke:none;transform:none">BTN</text>
<text x="387" y="1313" style="fill:#d01020;stroke:none;font-size:8px;font-style:italic;transform:none">Car Call</text>
<text x="367" y="1274" style="fill:#f7941d;stroke:none;font-size:14px;font-style:italic;font-family:'Liberation Serif',serif;transform:none">i</text>
<text class="dim" x="517" y="1356">12m</text><text class="dim" x="452" y="1377" style="transform:rotate(-90deg) scaleX(.85)">6m</text><text class="dim" x="481" y="1405">4.7m</text><text class="dim" x="500" y="1427" style="transform:rotate(-90deg) scaleX(.85)">3.5m</text><text class="dim" x="482" y="1439">4.5m</text><text class="dim" x="476" y="1451">6m</text>
</g>
</svg>
</body></html>
